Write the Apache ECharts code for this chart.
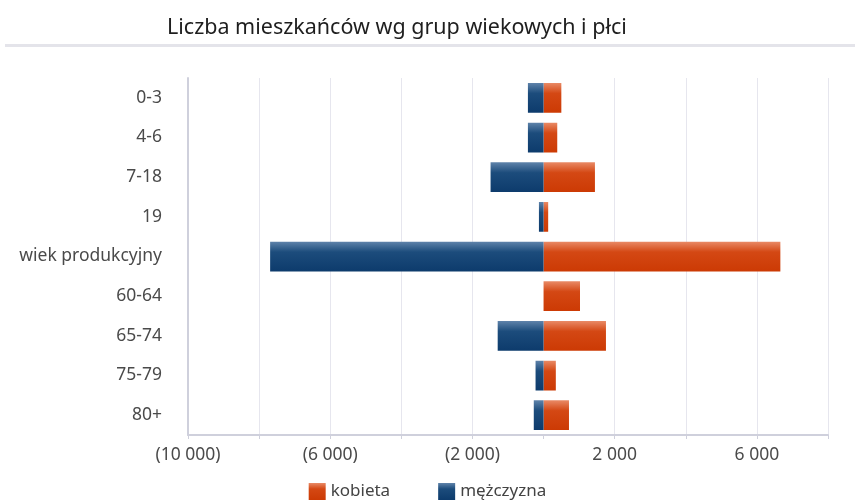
<!DOCTYPE html>
<html>
<head>
<meta charset="utf-8">
<script src="https://cdn.jsdelivr.net/npm/echarts@6/dist/echarts.min.js"></script>
<style>
  html, body { margin: 0; padding: 0; background: #fff; }
  #chart { width: 855px; height: 503px; }
</style>
</head>
<body>
<div id="chart"></div>
<script>
const ageGroups = ['0-3', '4-6', '7-18', '19', 'wiek produkcyjny', '60-64', '65-74', '75-79', '80+']
const women = [500, 385, 1445, 130, 6660, 1025, 1755, 345, 715]
const men = [440, 440, 1490, 130, 7690, 0, 1290, 225, 275]

const ORANGE = '#cc3a04'
const BLUE = '#0d3b6c'

function gloss(top, mid, bottom) {
  return new echarts.graphic.LinearGradient(0, 0, 0, 1, [
    { offset: 0, color: top },
    { offset: 0.35, color: mid },
    { offset: 1, color: bottom },
  ])
}

function fmtTick(v) {
  const s = Math.abs(v).toString().replace(/\B(?=(\d{3})+(?!\d))/g, ' ')
  return v < 0 ? `(${s})` : s
}

const chart = echarts.init(document.getElementById('chart'), undefined, { renderer: 'canvas' })

chart.setOption({
  backgroundColor: '#fff',
  textStyle: { fontFamily: 'Noto Sans' },
  title: {
    text: 'Liczba mieszkańców wg grup wiekowych i płci',
    left: 162,
    top: 12,
    textStyle: { fontSize: 21.5, fontWeight: 'normal', color: '#1e1e1e' },
  },
  graphic: [
    {
      type: 'rect',
      shape: { x: 5, y: 44, width: 850, height: 3 },
      style: { fill: '#e4e4ea' },
    },
  ],
  legend: {
    bottom: -2,
    left: 'center',
    itemWidth: 17,
    itemHeight: 17,
    itemGap: 48,
    icon: 'rect',
    textStyle: { fontSize: 17, color: '#444' },
    data: ['kobieta', 'mężczyzna'],
  },
  grid: { left: 188, right: 27, top: 78, bottom: 68, containLabel: false },
  xAxis: {
    type: 'value',
    min: -10000,
    max: 8000,
    interval: 2000,
    axisLine: { show: true, lineStyle: { color: '#cfd0dc', width: 2 } },
    axisTick: { show: true, length: 4, lineStyle: { color: '#cfd0dc' } },
    axisLabel: {
      color: '#4a4a4a',
      fontSize: 17.5,
      margin: 11,
      formatter: (v) => ((v + 10000) % 4000 === 0 ? fmtTick(v) : ''),
    },
    splitLine: {
      show: true,
      lineStyle: {
        color: ['#e6e6ee', '#e6e6ee', '#e6e6ee', '#e6e6ee', '#e6e6ee', 'rgba(0,0,0,0)', '#e6e6ee', '#e6e6ee', '#e6e6ee', '#e6e6ee'],
      },
    },
  },
  yAxis: {
    type: 'category',
    inverse: true,
    data: ageGroups,
    axisLine: { show: true, onZero: false, lineStyle: { color: '#cfd0dc', width: 2 } },
    axisTick: { show: false },
    axisLabel: { color: '#4a4a4a', fontSize: 17.5, margin: 26 },
  },
  series: [
    {
      name: 'kobieta',
      type: 'bar',
      stack: 'pop',
      barCategoryGap: '25%',
      data: women,
      itemStyle: { color: gloss('#e98a66', '#d44814', ORANGE) },
    },
    {
      name: 'mężczyzna',
      type: 'bar',
      stack: 'pop',
      barCategoryGap: '25%',
      data: men.map((v) => -v),
      itemStyle: { color: gloss('#5f83aa', '#1c4c7c', BLUE) },
    },
  ],
})
</script>
</body>
</html>
